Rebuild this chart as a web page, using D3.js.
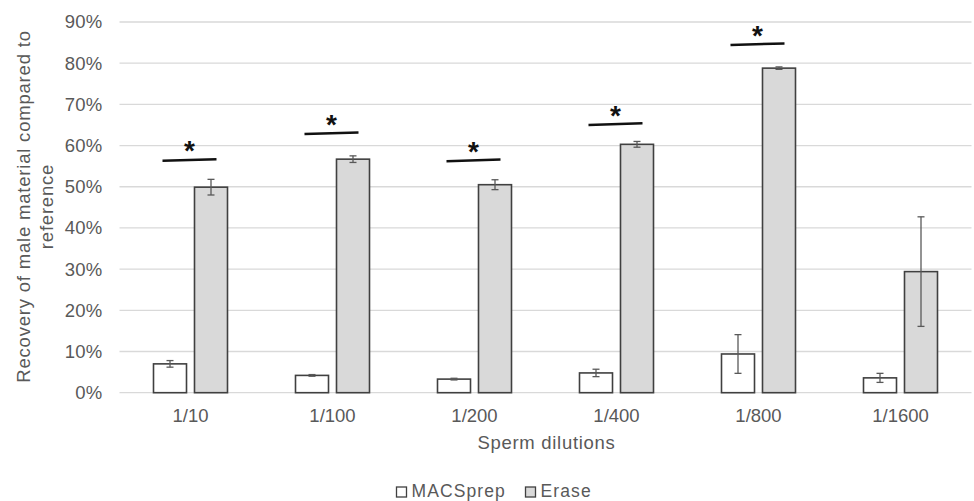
<!DOCTYPE html>
<html><head><meta charset="utf-8">
<script src="https://cdn.jsdelivr.net/npm/d3@7"></script>
<style>body{margin:0;background:#fff;} text{font-family:"Liberation Sans",Arial,sans-serif;}</style>
</head><body>
<svg id="c" width="974" height="501"></svg>
<script>
const categories = ["1/10","1/100","1/200","1/400","1/800","1/1600"];
const seriesNames = ["MACSprep","Erase"];
const macsValues = [7.0, 4.2, 3.3, 4.8, 9.4, 3.6];
const macsErrors = [0.8, 0.2, 0.2, 0.9, 4.7, 1.1];
const eraseValues = [49.9, 56.7, 50.5, 60.3, 78.8, 29.4];
const eraseErrors = [1.9, 0.8, 1.2, 0.7, 0.3, 13.3];
const sigLevels = [56.5, 63.0, 56.4, 65.2, 84.6, null];
const yTicks = [0,10,20,30,40,50,60,70,80,90];

(function(){
const svg = d3.select("#c");
const pL = 119.5, pR = 971.5, pT = 22, pB = 392.7;
const FF = '"Liberation Sans",Arial,sans-serif';
const x = d3.scaleBand().domain(categories).range([pL, pR]);
const y = d3.scaleLinear().domain([0, 90]).range([pB, pT]);
const xs = d3.scaleBand().domain(seriesNames).range([0, 74]).paddingInner(0.195);

// gridlines
svg.append("g").selectAll("line").data(yTicks).join("line")
  .attr("x1", pL).attr("x2", pR)
  .attr("y1", d => y(d)).attr("y2", d => y(d))
  .attr("stroke", "#d9d9d9").attr("stroke-width", 1.3);

// y tick labels
const yAxis = d3.axisLeft(y).tickValues(yTicks).tickFormat(d => d + "%").tickSize(0).tickPadding(0);
const ga = svg.append("g").attr("transform", `translate(${102.6},0)`).call(yAxis);
ga.select(".domain").remove();
ga.selectAll("text").attr("font-size", 18.5).attr("fill", "#595959")
  .style("font-family", FF).style("letter-spacing", "0.3px");

// x labels
const gx = svg.append("g").attr("transform", `translate(0,${pB})`)
  .call(d3.axisBottom(x).tickSize(0).tickPadding(16));
gx.select(".domain").remove();
gx.selectAll("text").attr("font-size", 18.5).attr("fill", "#595959")
  .style("font-family", FF);

const fills = {"MACSprep":"#ffffff","Erase":"#d9d9d9"};
const data = [];
categories.forEach((c,i) => {
  data.push({c, s:"MACSprep", v:macsValues[i], e:macsErrors[i]});
  data.push({c, s:"Erase", v:eraseValues[i], e:eraseErrors[i]});
});
const gOff = (x.bandwidth() - 74) / 2;
const bx = d => x(d.c) + gOff + xs(d.s);

svg.append("g").selectAll("rect").data(data).join("rect")
  .attr("x", bx).attr("y", d => y(d.v))
  .attr("width", xs.bandwidth()).attr("height", d => y(0) - y(d.v))
  .attr("fill", d => fills[d.s]).attr("stroke", "#404040").attr("stroke-width", 1.6);

// error bars
const eg = svg.append("g").attr("stroke", "#595959").attr("stroke-width", 1.3);
data.forEach(d => {
  const cx = bx(d) + xs.bandwidth()/2;
  eg.append("line").attr("x1", cx).attr("x2", cx).attr("y1", y(d.v + d.e)).attr("y2", y(d.v - d.e));
  eg.append("line").attr("x1", cx-3.5).attr("x2", cx+3.5).attr("y1", y(d.v + d.e)).attr("y2", y(d.v + d.e));
  eg.append("line").attr("x1", cx-3.5).attr("x2", cx+3.5).attr("y1", y(d.v - d.e)).attr("y2", y(d.v - d.e));
});

// significance
categories.forEach((c,i) => {
  if (sigLevels[i] == null) return;
  const cx = x(c) + x.bandwidth()/2;
  svg.append("line").attr("x1", cx-28).attr("x2", cx+26)
    .attr("y1", y(sigLevels[i]) + 0.8).attr("y2", y(sigLevels[i]) - 0.8)
    .attr("stroke", "#111").attr("stroke-width", 2.5);
  svg.append("text").attr("x", cx - 1).attr("y", y(sigLevels[i]) + 0.5)
    .attr("text-anchor", "middle").attr("font-size", 28).attr("font-weight", "bold")
    .attr("fill", "#111").text("*");
});

// y title
const yt = svg.append("text").attr("transform", "translate(0,206.5) rotate(-90)")
  .attr("text-anchor", "middle").attr("font-size", 18.5).attr("fill", "#595959")
  .style("letter-spacing", "0.8px");
yt.append("tspan").attr("x", 0).attr("y", 29.5).text("Recovery of male material compared to");
yt.append("tspan").attr("x", 0).attr("y", 52.5).text("reference");

// x title
svg.append("text").attr("x", (pL+pR)/2 + 1).attr("y", 448.5).attr("text-anchor", "middle")
  .attr("font-size", 18.5).attr("fill", "#595959").style("letter-spacing", "0.7px").text("Sperm dilutions");

// legend
const lg = svg.append("g");
const legX = [396.5, 525.5];
seriesNames.forEach((s,i) => {
  lg.append("rect").attr("x", legX[i]).attr("y", 487).attr("width", 10).attr("height", 10)
    .attr("fill", fills[s]).attr("stroke", "#404040").attr("stroke-width", 1.3);
  lg.append("text").attr("x", legX[i] + 15).attr("y", 497.3).attr("font-size", 17.5)
    .attr("fill", "#595959").style("letter-spacing", "1.1px").text(s);
});
})();
</script>
</body></html>
